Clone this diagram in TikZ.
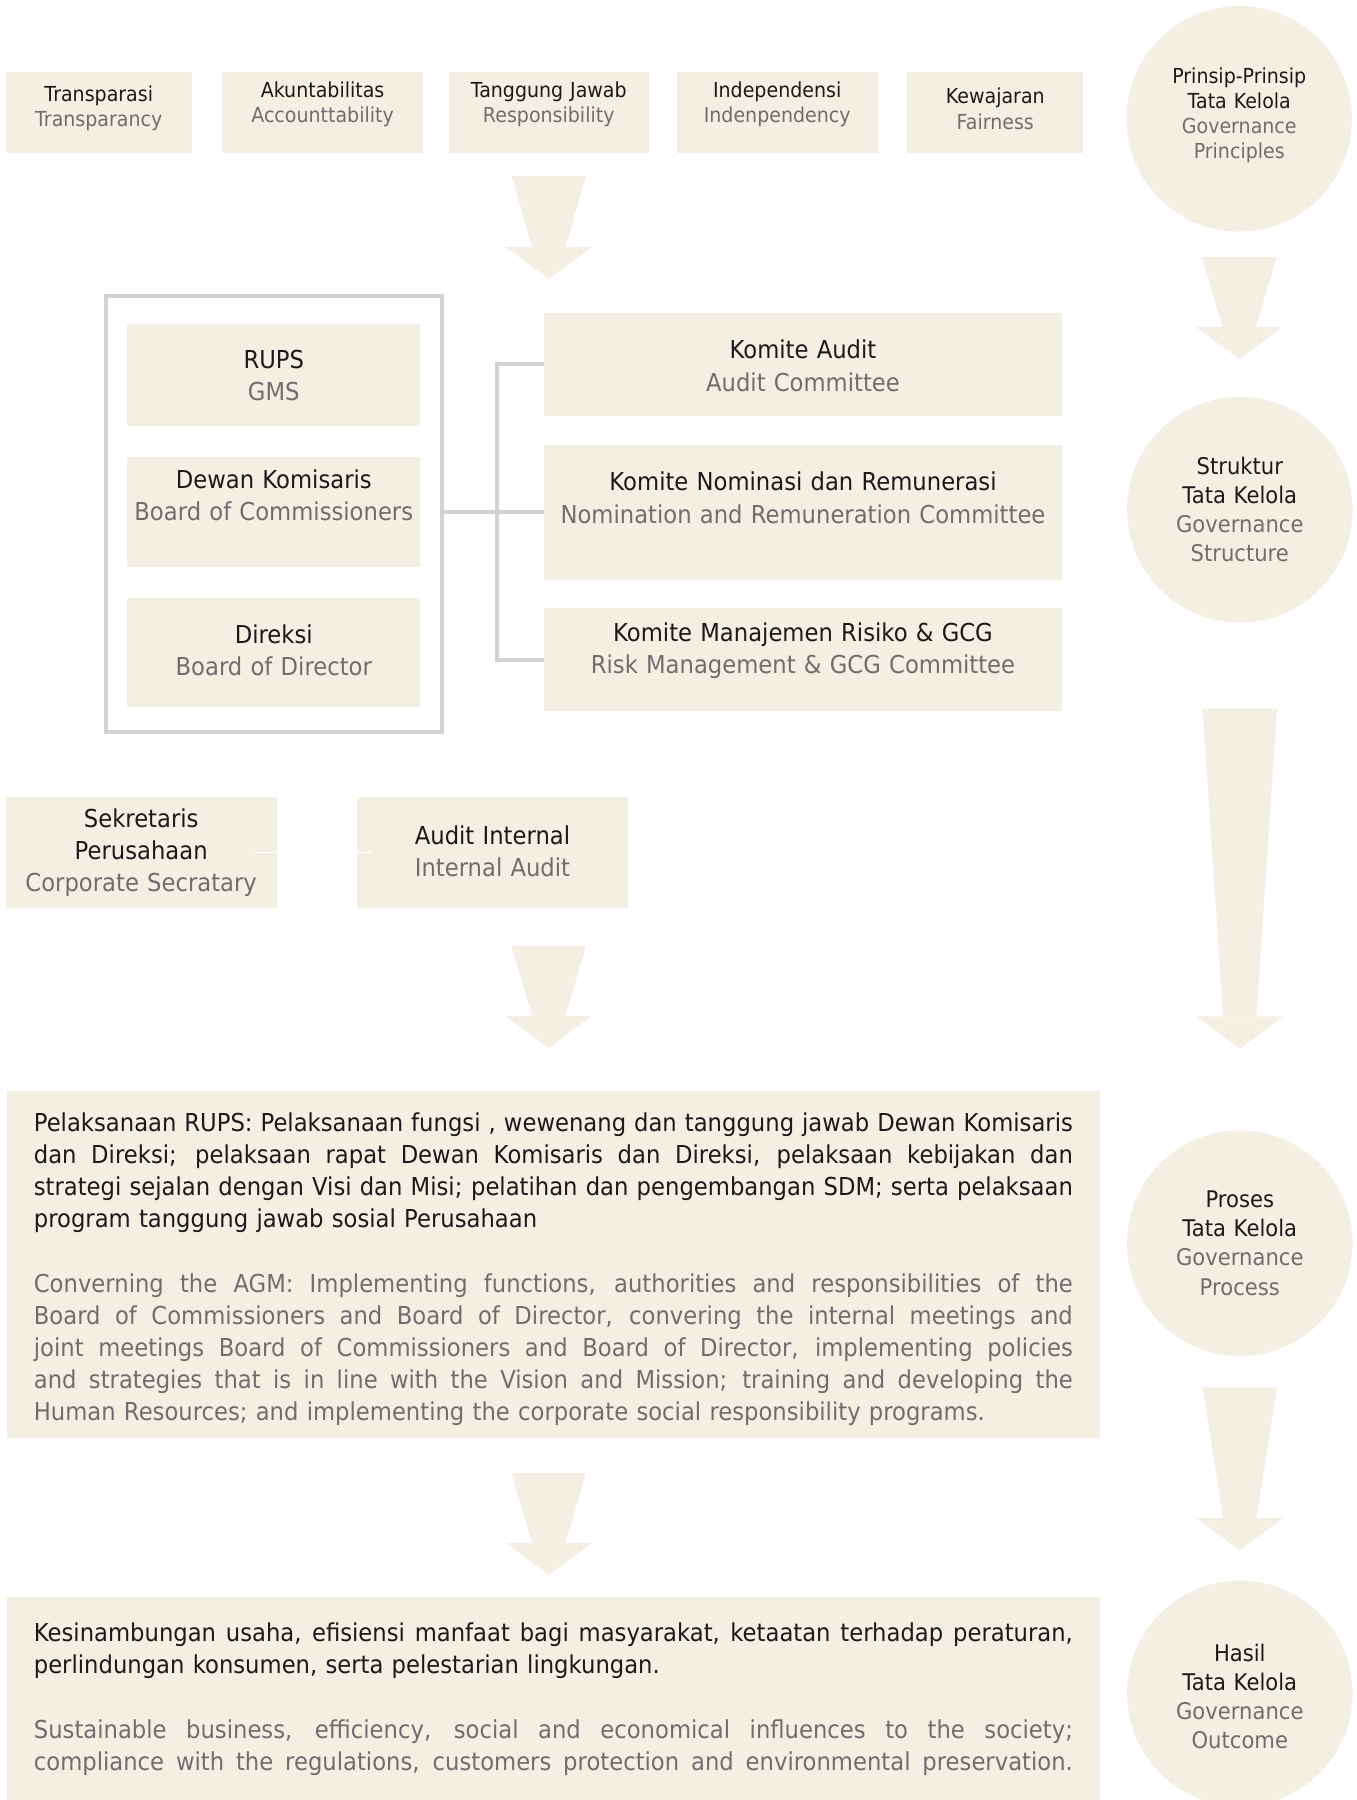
\documentclass[tikz,border=0pt]{standalone}
\usepackage{fontspec}
\setmainfont{DejaVu Sans}[FakeStretch=0.92]
\usetikzlibrary{positioning}

\definecolor{beige}{HTML}{F3EFE3}
\definecolor{titletext}{HTML}{1A1A1A}
\definecolor{subtext}{HTML}{6E6E6E}
\definecolor{framegrey}{HTML}{D3D3D3}

\newcommand{\eng}[1]{{\color{subtext}#1}}
\newcommand{\jline}[1]{\leavevmode\hbox to 905pt{\spaceskip=\fontdimen2\font plus 1fil minus 0.1em\relax #1}}

\tikzstyle{principle} = [rectangle, minimum height=70pt, inner sep=0pt, text width=150pt, text height=14pt, align=center, fill=beige, text=titletext, font=\fontsize{18}{22}\selectfont]
\tikzstyle{organ} = [rectangle, minimum width=255pt, inner sep=0pt, text width=250pt, text height=16pt, align=center, fill=beige, text=titletext, font=\fontsize{21.5}{28}\selectfont]
\tikzstyle{committee} = [organ, minimum width=451pt, text width=445pt]
\tikzstyle{support} = [organ, minimum width=236pt, minimum height=97pt, text width=230pt]
\tikzstyle{stage} = [circle, minimum size=196.5pt, inner sep=0pt, text width=160pt, text height=15pt, align=center, fill=beige, text=titletext, font=\fontsize{20}{25.3}\selectfont]
\tikzstyle{summary} = [rectangle, minimum width=952pt, inner sep=0pt, text width=905pt, text height=16pt, align=left, fill=beige, text=titletext, font=\fontsize{21.5}{28}\selectfont]
\tikzstyle{frame} = [rectangle, minimum width=293pt, minimum height=380pt, draw=framegrey, line width=3.5pt]
\tikzstyle{link} = [draw=framegrey, line width=3.5pt]
\tikzstyle{hairline} = [draw=white, line width=1.5pt]

\tikzset{
  pics/flowdown/.style={code={
    \fill[beige] (-32.5,0) -- (32.5,0) -- (14.5,-#1+28) -- (-14.5,-#1+28) -- cycle;
    \fill[beige] (-37.5,-#1+28) -- (37.5,-#1+28) -- (0,-#1) -- cycle;
  }}
}

\begin{document}
\begin{tikzpicture}[x=1pt, y=1pt, node distance=196pt]
    \useasboundingbox (0,0) rectangle (1182,-1568);

    % Principles
    \node (transparasi) [principle, minimum width=162pt, text depth=33pt] at (86,-98) {Transparasi\\\eng{Transparancy}};
    \node (akuntabilitas) [principle, minimum width=175pt, text depth=41pt, right of=transparasi, xshift=-1pt] {Akuntabilitas\\\eng{Accounttability}};
    \node (tanggungjawab) [principle, minimum width=174pt, text depth=41pt, right of=akuntabilitas, xshift=1pt] {Tanggung Jawab\\\eng{Responsibility}};
    \node (independensi) [principle, minimum width=175pt, text depth=41pt, right of=tanggungjawab, xshift=3pt] {Independensi\\\eng{Indenpendency}};
    \node (kewajaran) [principle, minimum width=153pt, text depth=29pt, right of=independensi, xshift=-6pt] {Kewajaran\\\eng{Fairness}};

    % Governance stages
    \node (principles) [stage, font=\fontsize{18}{22}\selectfont, text height=14pt, text depth=76pt] at (1079.5,-103.5) {Prinsip-Prinsip\\Tata Kelola\\\eng{Governance}\\\eng{Principles}};
    \node (structure) [stage, text depth=76.6pt] at (1080,-444) {Struktur\\Tata Kelola\\\eng{Governance}\\\eng{Structure}};
    \node (process) [stage, text depth=76.6pt] at (1080,-1083) {Proses\\Tata Kelola\\\eng{Governance}\\\eng{Process}};
    \node (outcome) [stage, text depth=70.6pt] at (1080,-1475) {Hasil\\Tata Kelola\\\eng{Governance}\\\eng{Outcome}};

    % Organs
    \node (board) [frame] at (238.5,-448) {};
    \node (rups) [organ, minimum height=89pt, text depth=27.6pt] at (238.5,-326.5) {RUPS\\\eng{GMS}};
    \node (dewan) [organ, minimum height=96pt, text depth=56.6pt, below of=rups, node distance=119.5pt] {Dewan Komisaris\\\eng{Board of Commissioners}};
    \node (direksi) [organ, minimum height=95pt, text depth=31.6pt, below of=dewan, node distance=122.5pt] {Direksi\\\eng{Board of Director}};

    % Committees
    \node (audit) [committee, minimum height=89pt, text depth=25.6pt] at (699.5,-317.5) {Komite Audit\\\eng{Audit Committee}};
    \node (nominasi) [committee, minimum height=117pt, text depth=53.6pt, below of=audit, node distance=129pt] {Komite Nominasi dan Remunerasi\\\eng{Nomination and Remuneration Committee}};
    \node (risk) [committee, minimum height=89pt, text depth=47.6pt, below of=nominasi, node distance=128pt] {Komite Manajemen Risiko \& GCG\\\eng{Risk Management \& GCG Committee}};

    % Supporting organs
    \node (sekretaris) [support, text depth=59.6pt] at (123,-742.5) {Sekretaris\\Perusahaan\\\eng{Corporate Secratary}};
    \node (internal) [support, text depth=29.6pt, right of=sekretaris, node distance=306pt] {Audit Internal\\\eng{Internal Audit}};

    % Summaries
    \node (implementation) [summary, minimum height=303pt, text depth=247.6pt] at (482,-1101.5) {%
      \jline{Pelaksanaan RUPS: Pelaksanaan fungsi , wewenang dan tanggung jawab Dewan Komisaris}\\
      \jline{dan Direksi; pelaksaan rapat Dewan Komisaris dan Direksi, pelaksaan kebijakan dan}\\
      \jline{strategi sejalan dengan Visi dan Misi; pelatihan dan pengembangan SDM; serta pelaksaan}\\
      program tanggung jawab sosial Perusahaan\\[28pt]
      \color{subtext}%
      \jline{Converning the AGM: Implementing functions, authorities and responsibilities of the}\\
      \jline{Board of Commissioners and Board of Director, convering the internal meetings and}\\
      \jline{joint meetings Board of Commissioners and Board of Director, implementing policies}\\
      \jline{and strategies that is in line with the Vision and Mission; training and developing the}\\
      Human Resources; and implementing the corporate social responsibility programs.};
    \node (result) [summary, minimum height=177pt, text depth=115.6pt] at (482,-1479.5) {%
      \jline{Kesinambungan usaha, efisiensi manfaat bagi masyarakat, ketaatan terhadap peraturan,}\\
      perlindungan konsumen, serta pelestarian lingkungan.\\[29pt]
      \color{subtext}%
      \jline{Sustainable business, efficiency, social and economical influences to the society;}\\
      \jline{compliance with the regulations, customers protection and environmental preservation.}};

    % Links
    \draw [link] (dewan.east -| board.east) -- (dewan.east -| nominasi.west);
    \draw [link] (audit.west) -- ++(-41,0) |- (risk.west);
    \draw [hairline] ([xshift=-19pt]sekretaris.east) -- ([xshift=13pt]internal.west);

    % Flow arrows
    \pic at ([yshift=-20pt]tanggungjawab.south) {flowdown=90};
    \pic at ([yshift=-22pt]principles.south) {flowdown=89};
    \pic at ([yshift=-75pt]structure.south) {flowdown=296};
    \pic at (478,-824) {flowdown=89};
    \pic at ([yshift=-27pt]process.south) {flowdown=142};
    \pic at (478,-1283) {flowdown=89};

\end{tikzpicture}
\end{document}
